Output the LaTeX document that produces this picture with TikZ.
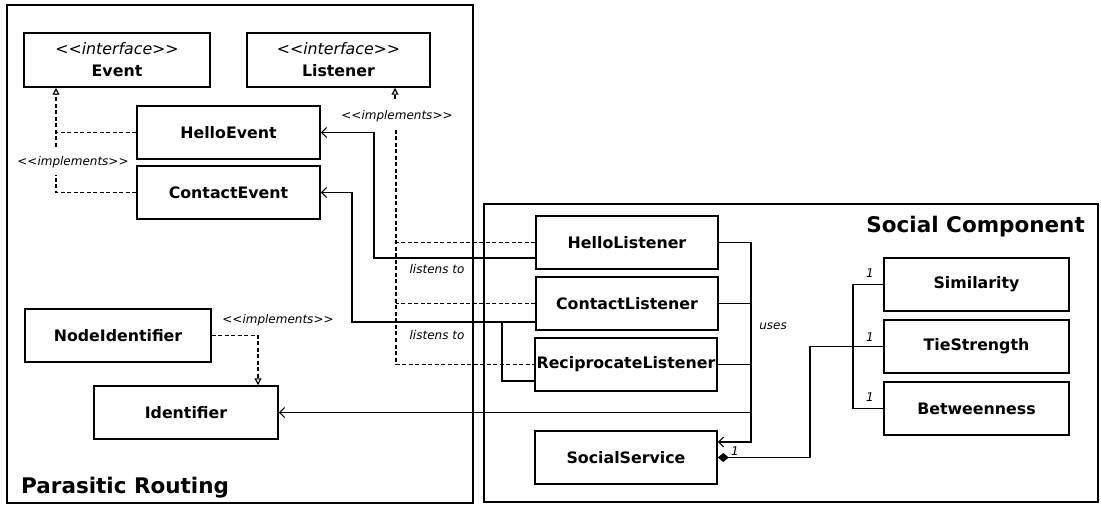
\documentclass[tikz,border=0pt]{standalone}
\usepackage{fontspec}
\setmainfont{DejaVu Sans}
\usetikzlibrary{arrows.meta,calc}
\newcommand\stereo[1]{<\kern0pt<#1>\kern0pt>}
\begin{document}
\begin{tikzpicture}[x=1pt,y=-1pt,
 box/.style={draw, line width=1.5pt, minimum width=183pt, minimum height=53pt, inner sep=0pt,
   font=\fontsize{15.8}{22}\selectfont\bfseries, align=center},
 frame/.style={draw, line width=2.6pt},
 dep/.style={line width=1.2pt, dash pattern=on 4pt off 2.5pt},
 real/.style={dep, -{Triangle[open, length=7pt, width=7pt]}},
 assoc/.style={line width=1.2pt},
 nav/.style={assoc, -{Straight Barb[length=5pt, width=10pt]}},
 comp/.style={assoc, {Diamond[length=11pt, width=9pt]}-},
 lbl/.style={font=\fontsize{12}{14}\selectfont\itshape, inner sep=0pt},
 ttl/.style={font=\fontsize{21.5}{24}\selectfont\bfseries, inner sep=0pt}]
\useasboundingbox (0,0) rectangle (1101,505);

% frames
\draw[frame] (7,5) rectangle (473,503);
\draw[frame] (484,204) rectangle (1098,502);
\node[ttl, anchor=west] (prt) at (21,488) {Parasitic Routing};
\node[ttl, anchor=east] (sct) at (1085,227) {Social Component};

% boxes
\node[box, minimum width=186pt, minimum height=54pt] (event) at (117,60)
  {{\mdseries\itshape\stereo{interface}}\\Event};
\node[box, minimum height=54pt] (listener) at (338.5,60)
  {{\mdseries\itshape\stereo{interface}}\\Listener};
\node[box] (helloevent) at (228.5,132.5) {HelloEvent};
\node[box] (contactevent) at (228.5,192.5) {ContactEvent};
\node[box, minimum width=186pt] (nodeid) at (118,335.5) {NodeIdentifier};
\node[box, minimum width=184pt] (identifier) at (186,412.5) {Identifier};
\node[box, minimum width=182pt] (hellolistener) at (627,242.5) {HelloListener};
\node[box, minimum width=182pt] (contactlistener) at (627,303.5) {ContactListener};
\node[box, minimum width=182pt] (reciprocate) at (626,364.5) {ReciprocateListener};
\node[box, minimum width=182pt] (socialservice) at (626,457.5) {SocialService};
\node[box, minimum width=185pt] (similarity) at (976.5,284.5) {Similarity};
\node[box, minimum width=185pt] (tiestrength) at (976.5,346.5) {TieStrength};
\node[box, minimum width=185pt] (betweenness) at (976.5,408.5) {Betweenness};

% Event realization
\coordinate (ev1) at (56,175);
\coordinate (ev2) at (56,147);
\draw[real] (ev2) -- (event.south -| ev2);
\draw[dep] (helloevent.west) -- (helloevent.west -| ev2);
\draw[dep] (contactevent.west) -| (ev1);
\node[lbl] (impl1) at (73,162) {\stereo{implements}};

% Listener realization
\coordinate (li1) at (396,130);
\coordinate (li2) at (395,99);
\draw[real] (li2) -- (listener.south -| li2);
\node[lbl] (impl2) at (397,116) {\stereo{implements}};
\draw[dep] (li1) |- (reciprocate.west);
\draw[dep] (hellolistener.west) -- (hellolistener.west -| li1);
\draw[dep] (contactlistener.west) -- (contactlistener.west -| li1);

% listens to HelloEvent
\coordinate (ha) at (374,258);
\draw[nav] (hellolistener.west |- ha) -- (ha) |- (helloevent.east);
% listens to ContactEvent
\coordinate (ca) at (352,322);
\coordinate (cb) at (502,322);
\coordinate (cc) at (502,381);
\draw[nav] (contactlistener.west |- ca) -- (ca) |- (contactevent.east);
\draw[assoc] (cb) -- (cc) -- (reciprocate.west |- cc);
\node[lbl] (lt1) at (437,269) {listens to};
\node[lbl] (lt2) at (437,335) {listens to};

% uses
\coordinate (ub) at (751,442);
\coordinate (uc) at (751,412.5);
\draw[nav] (hellolistener.east) -| (ub) -- (socialservice.east |- ub);
\draw[assoc] (contactlistener.east) -- (contactlistener.east -| ub);
\draw[assoc] (reciprocate.east) -- (reciprocate.east -| ub);
\draw[nav] (uc) -- (identifier.east);
\node[lbl] (uses) at (773,326) {uses};

% NodeIdentifier realization
\coordinate (ni) at (258,0);
\draw[real] (nodeid.east) -| (identifier.north -| ni);
\node[lbl] (impl3) at (278,320) {\stereo{implements}};

% composition
\coordinate (sa) at (810,346.5);
\draw[comp] (socialservice.east) -| (sa) -- (tiestrength.west);
\node[lbl] (m0) at (735,451) {1};
\coordinate (bx) at (853,346.5);
\draw[assoc] (similarity.west) -| (bx) |- (betweenness.west);
\node[lbl] (m1) at (870,273) {1};
\node[lbl] (m2) at (870,337) {1};
\node[lbl] (m3) at (870,397) {1};
\end{tikzpicture}
\end{document}
